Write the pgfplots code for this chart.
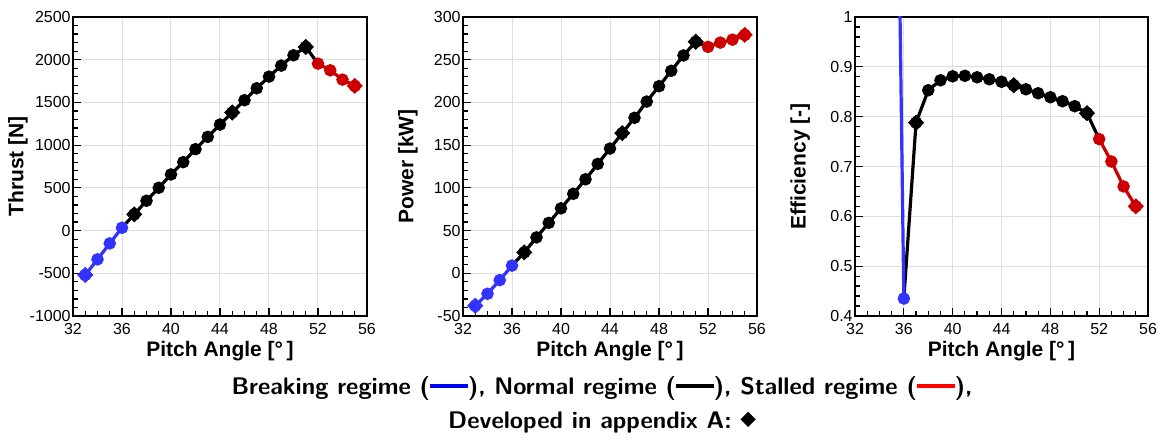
\documentclass[border=0pt]{standalone}
\usepackage{fontspec}
\setmainfont{Liberation Sans}
\usepackage{graphicx}
\usepackage{pgfplots}
\usepackage{pgfplotstable}
\pgfplotsset{compat=1.18}
\definecolor{bluec}{RGB}{51,51,255}
\definecolor{redc}{RGB}{204,0,0}
\definecolor{gridc}{RGB}{222,222,222}

% Breaking regime
\pgfplotstableread{
a T P E
33 -520 -38 nan
34 -337 -24 nan
35 -150 -8 2.26
36 33 9 0.435
}\bluetab
% Normal regime
\pgfplotstableread{
a T P E
36 33 9 0.435
37 190 24.5 0.788
38 349 42 0.853
39 501 59 0.873
40 657 76 0.881
41 801 93 0.882
42 953 110 0.879
43 1097 128 0.875
44 1241 146 0.870
45 1382 164 0.863
46 1526 182 0.855
47 1666 201 0.847
48 1802 219 0.839
49 1931 237 0.831
50 2052 255 0.821
51 2149 271 0.807
52 1954 265 0.755
}\blacktab
% Stalled regime
\pgfplotstableread{
a T P E
52 1954 265 0.755
53 1876 270 0.710
54 1767 273.5 0.660
55 1693 279 0.620
}\redtab

\pgfplotsset{
  panel/.style={
    scale only axis, width=147pt, height=149.5pt,
    xmin=32, xmax=56, xtick={32,36,...,56}, minor x tick num=3,
    minor y tick num=4,
    grid=major, major grid style={gridc, line width=0.5pt},
    tick align=inside, tick pos=left,
    major tick length=4pt, minor tick length=2.3pt,
    tick style={black, line width=0.6pt},
    axis line style={line width=0.8pt},
    tick label style={font=\fontsize{8}{9}\selectfont},
    xlabel={Pitch Angle [°\,]},
    every axis x label/.style={at={(axis description cs:0.5,-0.117)}, anchor=center,
      font=\bfseries\fontsize{10.5}{12}\selectfont},
    every axis y label/.style={at={(axis description cs:-0.187,0.5)}, rotate=90, anchor=center,
      font=\bfseries\fontsize{10.5}{12}\selectfont},
    /pgf/number format/assume math mode=true,
    /pgf/number format/1000 sep={},
    yticklabel style={inner sep=1pt},
  },
  ln/.style={line width=1.6pt, mark size=2.3pt},
  dia/.style={only marks, mark=square*, mark options={rotate=45}, mark size=2.65pt},
}

\begin{document}
\begin{tikzpicture}
\path[use as bounding box] (0,0) rectangle (581pt,-219pt);

% ---------- Thrust ----------
\begin{axis}[panel, at={(36.5pt,-8.5pt)}, anchor=north west,
  ymin=-1000, ymax=2500, ytick={-1000,-500,...,2500},
  ylabel={Thrust [N]}]
\addplot[ln, bluec, mark=*] table[x=a,y=T] {\bluetab};
\addplot[ln, black, mark=*, mark indices={2,...,16}] table[x=a,y=T] {\blacktab};
\addplot[ln, redc, mark=*] table[x=a,y=T] {\redtab};
\addplot[dia, bluec, mark indices={1}] table[x=a,y=T] {\bluetab};
\addplot[dia, black, mark indices={2,10,16}] table[x=a,y=T] {\blacktab};
\addplot[dia, redc, mark indices={4}] table[x=a,y=T] {\redtab};
\end{axis}

% ---------- Power ----------
\begin{axis}[panel, at={(231.5pt,-8.5pt)}, anchor=north west,
  ymin=-50, ymax=300, ytick={-50,0,...,300},
  ylabel={Power [kW]}]
\addplot[ln, bluec, mark=*] table[x=a,y=P] {\bluetab};
\addplot[ln, black, mark=*, mark indices={2,...,16}] table[x=a,y=P] {\blacktab};
\addplot[ln, redc, mark=*] table[x=a,y=P] {\redtab};
\addplot[dia, bluec, mark indices={1}] table[x=a,y=P] {\bluetab};
\addplot[dia, black, mark indices={2,10,16}] table[x=a,y=P] {\blacktab};
\addplot[dia, redc, mark indices={4}] table[x=a,y=P] {\redtab};
\end{axis}

% ---------- Efficiency ----------
\begin{axis}[panel, at={(427.5pt,-8.5pt)}, anchor=north west, width=146.5pt,
  ymin=0.4, ymax=1, ytick={0.4,0.5,0.6,0.7,0.8,0.9,1},
  ylabel={Efficiency [-]}]
\addplot[ln, black, mark=*, mark indices={2,...,16}] table[x=a,y=E] {\blacktab};
\addplot[ln, bluec, mark=*] table[x=a,y=E] {\bluetab};
\addplot[ln, redc, mark=*] table[x=a,y=E] {\redtab};
\addplot[dia, black, mark indices={2,10,16}] table[x=a,y=E] {\blacktab};
\addplot[dia, redc, mark indices={4}] table[x=a,y=E] {\redtab};
\end{axis}

% ---------- Legend text ----------
\node[font=\sffamily\bfseries\fontsize{12}{14}\selectfont, inner sep=0pt] at (301pt,-194pt)
  {Breaking regime (\textcolor{blue}{\rule[0.26em]{19pt}{1.7pt}}), Normal regime (\textcolor{black}{\rule[0.26em]{19pt}{1.7pt}}), Stalled regime (\textcolor{red}{\rule[0.26em]{19pt}{1.7pt}}),};
\node[font=\sffamily\bfseries\fontsize{12}{14}\selectfont, inner sep=0pt] at (301pt,-211pt)
  {Developed in appendix A: \tikz[baseline=-4.3pt]\fill[rotate=45] (-2.7pt,-2.7pt) rectangle (2.7pt,2.7pt);};
\end{tikzpicture}
\end{document}
